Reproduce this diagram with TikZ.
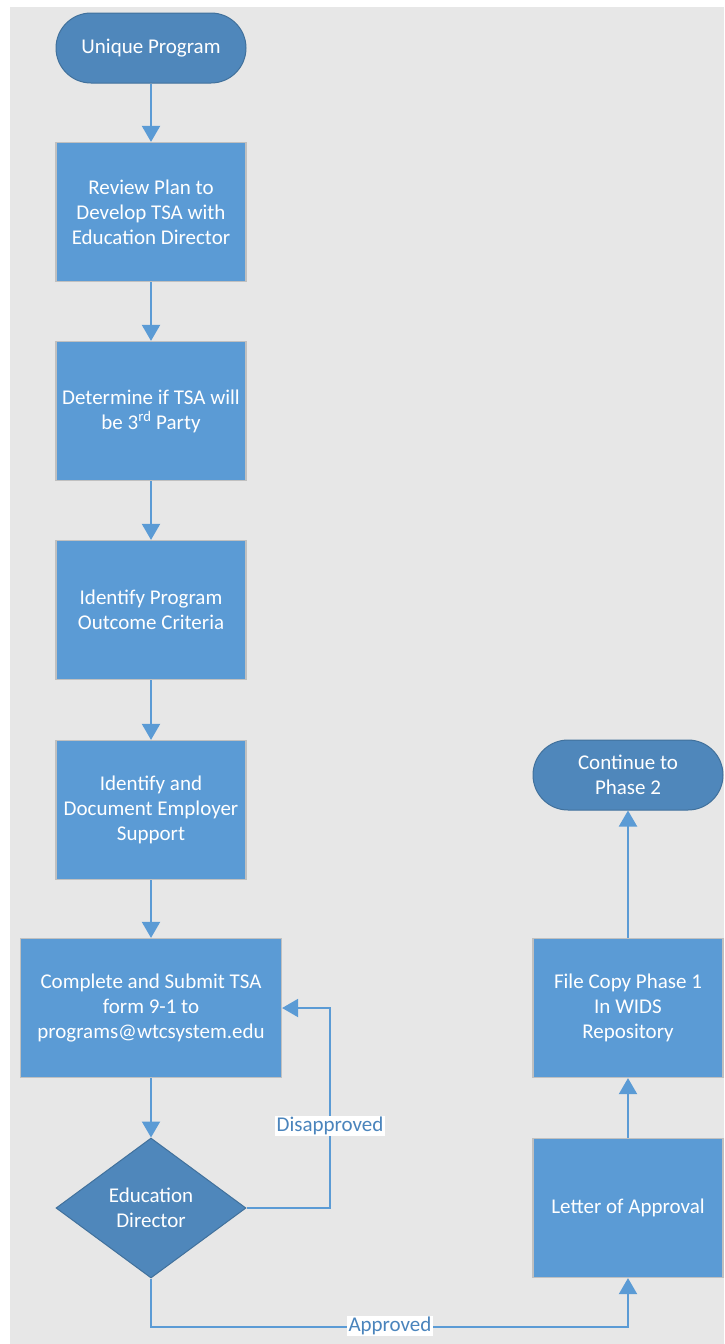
\documentclass[tikz,border=0pt]{standalone}
\usepackage{fontspec}
\setmainfont{Carlito}
\usetikzlibrary{arrows.meta,shapes.geometric}
\definecolor{boxblue}{HTML}{5B9BD5}
\definecolor{termblue}{HTML}{4F87BB}
\definecolor{termedge}{HTML}{41719C}
\definecolor{boxedge}{HTML}{C0C0C0}
\definecolor{bggrey}{HTML}{E7E7E7}
\definecolor{labelblue}{HTML}{4A84BC}

\begin{document}
\begin{tikzpicture}[x=1pt,y=-1pt,
  every node/.style={font=\fontsize{21}{25}\selectfont,text=white,align=center},
  proc/.style={fill=boxblue,draw=boxedge,line width=1.2pt,minimum width=190pt,minimum height=139pt,inner sep=0pt},
  term/.style={fill=termblue,draw=termedge,line width=1pt,rounded corners=35pt,minimum width=190pt,minimum height=70pt,inner sep=0pt},
  decide/.style={diamond,fill=termblue,draw=termedge,line width=1pt,minimum width=190pt,minimum height=140pt,inner sep=0pt},
  link/.style={draw=boxblue,line width=2pt,-{Triangle[width=18pt,length=16pt]}},
  lbl/.style={fill=white,text=labelblue,inner sep=1.5pt}]

\useasboundingbox (0,0) rectangle (724,1344);
\fill[bggrey] (10,7) rectangle (724,1344);

% left column
\node[term] (start) at (151,48) {Unique Program};
\node[proc] (review) at (151,212) {Review Plan to\\Develop TSA with\\Education Director};
\node[proc] (party) at (151,411) {Determine if TSA will\\be 3\textsuperscript{rd} Party};
\node[proc] (outcome) at (151,610) {Identify Program\\Outcome Criteria};
\node[proc] (employer) at (151,810) {Identify and\\Document Employer\\Support};
\node[proc,minimum width=261pt] (submit) at (151,1008) {Complete and Submit TSA\\form 9-1 to\\programs@wtcsystem.edu};
\node[decide] (edu) at (151,1208) {Education\\Director};

% right column
\node[proc] (letter) at (628,1208) {Letter of Approval};
\node[proc] (filecopy) at (628,1008) {File Copy Phase 1\\In WIDS\\Repository};
\node[term] (phase) at (628,775) {Continue to\\Phase 2};

\foreach \a/\b in {start/review,review/party,party/outcome,outcome/employer,employer/submit,submit/edu,letter/filecopy,filecopy/phase}
{
\draw[link] (\a) -- (\b);
}

\draw[link] (edu.east) -- ++(83,0) |- (submit.east);
\draw[link] (edu.south) -- ++(0,48) -| (letter.south);

\node[lbl] (disap) at (330,1126) {Disapproved};
\node[lbl] (appr) at (390,1326) {Approved};
\end{tikzpicture}
\end{document}
